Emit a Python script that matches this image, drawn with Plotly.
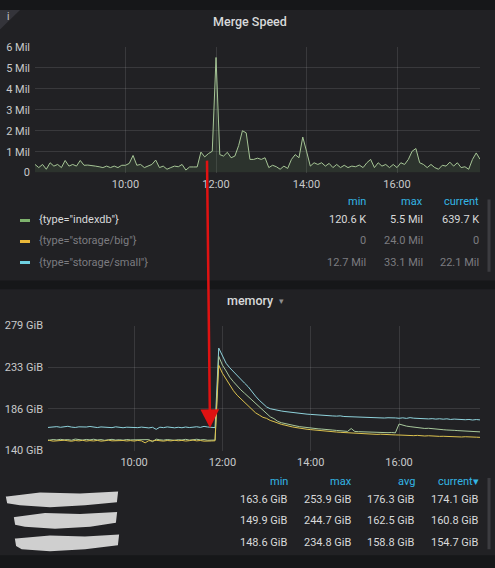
import pandas as pd
import plotly.graph_objects as go

W, H = 495, 568

# sample times (5 min steps, 08:00 -> 17:50)
times = pd.date_range("2019-01-01 08:00", periods=119, freq="5min")

# merge speed {type="indexdb"}, in rows per second
merge_indexdb = [
    390e3, 240e3, 390e3, 160e3, 470e3, 310e3, 390e3, 240e3, 580e3, 310e3, 390e3, 310e3,
    580e3, 350e3, 360e3, 350e3, 310e3, 280e3, 240e3, 310e3, 240e3, 310e3, 240e3, 350e3,
    350e3, 440e3, 820e3, 350e3, 390e3, 240e3, 310e3, 390e3, 600e3, 240e3, 310e3, 160e3,
    240e3, 310e3, 280e3, 390e3, 121e3, 270e3, 270e3, 270e3, 980e3, 750e3, 910e3, 1020e3,
    5500e3, 860e3, 790e3, 970e3, 710e3, 790e3, 1290e3, 2000e3, 1900e3, 630e3, 630e3, 690e3,
    630e3, 710e3, 240e3, 350e3, 280e3, 160e3, 310e3, 200e3, 630e3, 860e3, 710e3, 1700e3,
    1020e3, 310e3, 470e3, 390e3, 470e3, 310e3, 440e3, 240e3, 390e3, 240e3, 350e3, 240e3,
    310e3, 280e3, 360e3, 240e3, 470e3, 630e3, 240e3, 470e3, 310e3, 390e3, 240e3, 390e3,
    240e3, 470e3, 390e3, 630e3, 1020e3, 1150e3, 470e3, 390e3, 240e3, 390e3, 240e3, 160e3,
    350e3, 310e3, 500e3, 310e3, 470e3, 240e3, 280e3, 160e3, 630e3, 940e3, 639.7e3,
]

# memory, GiB (three redacted series)
mem_a = [
    165.5, 166.0, 165.8, 166.6, 165.9, 166.3, 167.0, 166.1, 165.7, 166.4, 165.9, 166.2,
    166.8, 166.0, 165.6, 166.3, 165.8, 166.1, 165.5, 166.4, 165.9, 165.4, 166.0, 165.7,
    165.8, 165.5, 166.1, 165.6, 165.2, 165.9, 163.6, 166.0, 165.5, 166.3, 165.7, 165.3,
    165.9, 165.4, 166.2, 165.6, 166.0, 166.5, 165.8, 166.9, 166.2, 165.9, 165.5, 253.9,
    245.0, 237.0, 232.0, 227.5, 223.0, 219.5, 215.0, 211.0, 205.5, 200.5, 196.0, 192.0,
    188.5, 186.5, 185.5, 184.7, 184.0, 183.4, 182.8, 182.3, 181.8, 181.3, 180.9, 180.5,
    180.2, 179.8, 179.6, 179.2, 179.0, 178.7, 178.5, 178.3, 178.6, 177.9, 177.7, 177.9,
    177.3, 177.5, 176.9, 177.1, 176.6, 176.8, 176.4, 176.7, 176.2, 176.5, 176.0, 176.3,
    175.9, 176.4, 175.8, 176.6, 176.0, 175.7, 175.4, 175.9, 175.2, 175.5, 175.0, 175.4,
    174.9, 175.3, 174.6, 175.0, 174.5, 174.8, 174.3, 174.6, 174.0, 174.5, 174.1,
]
mem_b = [
    152.0, 151.6, 152.3, 151.8, 152.5, 151.9, 152.2, 151.5, 152.8, 152.1, 151.7, 152.4,
    151.9, 152.6, 151.8, 152.2, 151.4, 152.0, 152.5, 151.7, 152.1, 151.6, 152.3, 151.9,
    152.0, 151.5, 152.4, 151.8, 152.2, 149.9, 152.7, 152.0, 151.6, 152.3, 151.9, 151.4,
    152.1, 151.8, 152.5, 151.7, 152.0, 152.6, 151.9, 152.2, 151.5, 152.0, 151.7, 244.7,
    235.0, 228.5, 221.5, 216.5, 211.5, 207.5, 203.8, 200.0, 196.0, 192.5, 188.8, 185.0,
    181.5, 177.5, 175.5, 172.6, 171.0, 169.9, 168.8, 168.2, 167.4, 166.6, 166.0, 165.4,
    165.1, 164.6, 164.2, 163.9, 163.3, 163.0, 162.8, 162.4, 162.1, 161.8, 161.3, 164.5,
    161.2, 161.0, 160.8, 160.9, 160.5, 160.7, 160.3, 160.1, 160.4, 159.9, 160.1, 159.7,
    169.5, 168.0, 167.2, 166.6, 166.0, 165.5, 165.2, 164.6, 164.8, 164.2, 163.8, 163.5,
    163.2, 162.9, 163.0, 162.5, 162.2, 162.0, 161.7, 161.9, 161.3, 161.5, 160.8,
]
mem_c = [
    150.8, 151.3, 150.5, 151.0, 150.7, 151.5, 150.9, 150.4, 151.2, 150.8, 151.4, 150.6,
    151.1, 150.7, 151.3, 150.5, 150.9, 151.6, 150.8, 151.0, 150.4, 151.2, 150.7, 151.1,
    150.6, 151.3, 150.8, 148.6, 151.0, 150.7, 151.4, 150.9, 150.5, 151.2, 150.8, 151.5,
    150.9, 151.3, 150.6, 151.0, 151.7, 150.8, 151.2, 150.5, 151.0, 150.7, 150.9, 234.8,
    226.0, 219.5, 212.0, 206.5, 201.5, 197.5, 193.0, 189.5, 185.5, 182.0, 179.5, 177.0,
    175.8, 173.5, 172.2, 170.5, 169.2, 168.3, 167.1, 166.3, 165.6, 164.8, 164.2, 163.7,
    163.3, 162.8, 162.5, 162.0, 161.6, 161.3, 160.9, 160.6, 160.3, 160.0, 159.8, 159.5,
    159.3, 159.1, 158.8, 158.9, 158.5, 158.3, 158.0, 158.2, 157.8, 157.6, 157.8, 157.4,
    157.3, 157.0, 157.2, 156.8, 156.6, 156.9, 156.4, 156.2, 156.5, 156.0, 156.2, 155.8,
    155.9, 155.6, 155.8, 155.3, 155.5, 155.1, 155.4, 155.0, 155.2, 154.9, 154.7,
]

time_ticks = ["2019-01-01 10:00", "2019-01-01 12:00", "2019-01-01 14:00", "2019-01-01 16:00"]
time_labels = ["10:00", "12:00", "14:00", "16:00"]
merge_ticks = [0, 1e6, 2e6, 3e6, 4e6, 5e6, 6e6]
merge_labels = ["0", "1 Mil", "2 Mil", "3 Mil", "4 Mil", "5 Mil", "6 Mil"]
mem_ticks = [140, 186.3, 232.7, 279]
mem_labels = ["140 GiB", "186 GiB", "233 GiB", "279 GiB"]

# legend tables
merge_names = ['{type="indexdb"}', '{type="storage/big"}', '{type="storage/small"}']
merge_colors = ["#7EB26D", "#EAB839", "#6ED0E0"]
merge_min = ["120.6 K", "0", "12.7 Mil"]
merge_max = ["5.5 Mil", "24.0 Mil", "33.1 Mil"]
merge_cur = ["639.7 K", "0", "22.1 Mil"]

mem_min = ["163.6 GiB", "149.9 GiB", "148.6 GiB"]
mem_max = ["253.9 GiB", "244.7 GiB", "234.8 GiB"]
mem_avg = ["176.3 GiB", "162.5 GiB", "158.8 GiB"]
mem_cur = ["174.1 GiB", "160.8 GiB", "154.7 GiB"]
mem_colors = ["#8fd3dc", "#a8c99c", "#dcc24e"]


def X(px):
    return px / W


def Y(py):
    return 1 - py / H


FONT = "Roboto"
GRID = "rgba(255,255,255,0.11)"
TXT = "#d8d9da"
BLUE = "#33b5e5"

fig = go.Figure()
fig.add_trace(
    go.Scatter(
        x=times, y=merge_indexdb, mode="lines", xaxis="x", yaxis="y",
        line=dict(color="#a6c596", width=1), fill="tozeroy",
        fillcolor="rgba(126,178,109,0.13)",
    )
)
for vals, col in zip([mem_a, mem_b, mem_c], mem_colors):
    fig.add_trace(
        go.Scatter(
            x=times, y=vals, mode="lines", xaxis="x2", yaxis="y2",
            line=dict(color=col, width=1),
        )
    )

axis_common = dict(
    showgrid=True, gridcolor=GRID, gridwidth=1, zeroline=False, showline=False,
    ticks="", tickfont=dict(family=FONT, size=11, color="#c8c9ca"),
)
fig.update_layout(
    width=W, height=H, margin=dict(l=0, r=0, t=0, b=0),
    paper_bgcolor="#161719", plot_bgcolor="rgba(0,0,0,0)", showlegend=False,
    xaxis=dict(domain=[X(35), X(480)], anchor="y",
               range=["2019-01-01 08:00", "2019-01-01 17:50"],
               tickvals=time_ticks, ticktext=time_labels, ticklabelstandoff=3, **axis_common),
    yaxis=dict(domain=[Y(170.5), Y(42)], anchor="x", range=[0, 6e6],
               tickvals=merge_ticks, ticktext=merge_labels, ticklabelstandoff=4, **axis_common),
    xaxis2=dict(domain=[X(48), X(480)], anchor="y2",
                range=["2019-01-01 08:03", "2019-01-01 17:50"],
                tickvals=time_ticks, ticktext=time_labels, ticklabelstandoff=3, **axis_common),
    yaxis2=dict(domain=[Y(455), Y(327)], anchor="x2", range=[140, 279],
                tickvals=mem_ticks, ticktext=mem_labels, ticklabelstandoff=4, **axis_common),
)

shapes = []
# panels
shapes.append(dict(type="rect", xref="paper", yref="paper", x0=0, x1=1, y0=Y(281), y1=Y(4),
                   fillcolor="#212124", line_width=0, layer="below"))
shapes.append(dict(type="rect", xref="paper", yref="paper", x0=0, x1=1, y0=Y(562), y1=Y(290),
                   fillcolor="#212124", line_width=0, layer="below"))
# info corner
shapes.append(dict(type="path", xref="paper", yref="paper",
                   path=f"M {X(0)} {Y(4)} L {X(20)} {Y(4)} L {X(0)} {Y(24)} Z",
                   fillcolor="#34343a", line_width=0, layer="below"))
# scrollbars
for y0, y1 in [(198, 272), (483, 556)]:
    shapes.append(dict(type="line", xref="paper", yref="paper", x0=X(489), x1=X(489),
                       y0=Y(y0), y1=Y(y1), line=dict(color="#3c3c40", width=3)))
# legend swatches
row_y = [219, 240.5, 262]
for ry, col in zip(row_y, merge_colors):
    shapes.append(dict(type="line", xref="paper", yref="paper", x0=X(20), x1=X(30),
                       y0=Y(ry + 0.5), y1=Y(ry + 0.5), line=dict(color=col, width=3)))
# redacted series names
blobs = [
    [(7, 503), (40, 499), (80, 500), (117, 498), (116, 507), (85, 510), (50, 512), (20, 510), (8, 508)],
    [(15, 524), (45, 520), (80, 521), (116, 519), (115, 528), (90, 532), (55, 534), (25, 532), (16, 530)],
    [(16, 546), (50, 543), (85, 544), (118, 542), (117, 551), (85, 555), (50, 557), (22, 555), (17, 552)],
]
for pts in blobs:
    path = "M " + " L ".join(f"{X(a)} {Y(b)}" for a, b in pts) + " Z"
    shapes.append(dict(type="path", xref="paper", yref="paper", path=path,
                       fillcolor="#dedede", line=dict(color="#dedede", width=2), opacity=0.92))
fig.update_layout(shapes=shapes)


def text(x, y, s, color=TXT, size=11, anchor="right", weight=None):
    f = dict(family=FONT, size=size, color=color)
    if weight:
        f["weight"] = weight
    fig.add_annotation(x=X(x), y=Y(y), xref="paper", yref="paper", text=s, showarrow=False,
                       xanchor=anchor, yanchor="middle", font=f)


text(250, 16, "Merge Speed", size=12.5, anchor="center", weight=500)
text(8, 11, "i", color="#c8c9ca", size=10, anchor="center")
text(250, 301, "memory", size=12.5, anchor="center", weight=500)
text(281, 302, "▾", color="#8e8e90", size=9, anchor="center")

# merge legend table
for cx, head in zip([368, 425, 481], ["min", "max", "current"]):
    text(cx, 200, head, color=BLUE)
for i, ry in enumerate(row_y):
    c = TXT if i == 0 else "#7c7c80"
    text(37, ry, merge_names[i], color=c, anchor="left")
    text(368, ry, merge_min[i], color=c)
    text(425, ry, merge_max[i], color=c)
    text(481, ry, merge_cur[i], color=c)

# memory legend table
for cx, head in zip([290, 354, 417, 481], ["min", "max", "avg", "current▾"]):
    text(cx, 487, head, color=BLUE)
for i, ry in enumerate([505, 527, 549]):
    text(290, ry, mem_min[i])
    text(354, ry, mem_max[i])
    text(417, ry, mem_avg[i])
    text(481, ry, mem_cur[i])

# red arrow from the merge spike down to the memory jump
fig.add_annotation(x=X(210), y=Y(432), xref="paper", yref="paper", text="", showarrow=True,
                   axref="pixel", ayref="pixel", ax=-3, ay=-269, arrowhead=2, arrowsize=1.5,
                   arrowwidth=2.5, arrowcolor="#e01212", standoff=0)

fig.write_html(
    "out.html",
    config={"displayModeBar": False},
    post_script="document.body.style.margin='0';document.body.style.background='#161719';",
)
